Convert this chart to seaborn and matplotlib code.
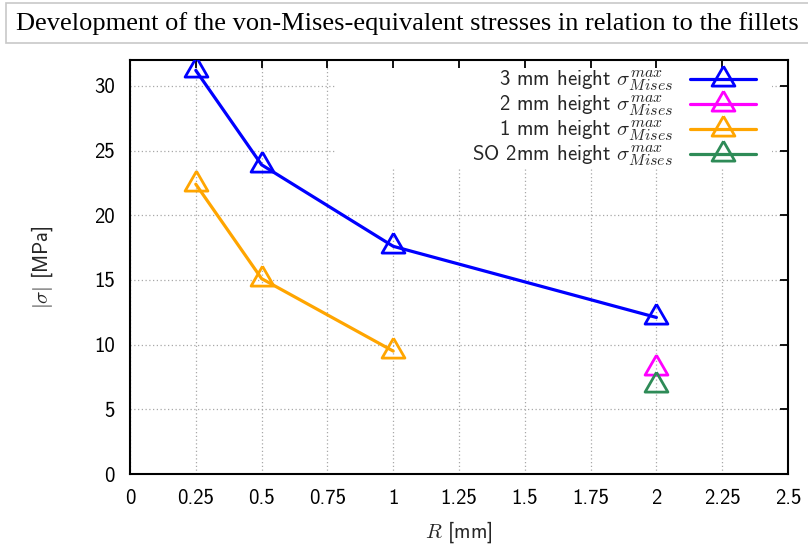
import numpy as np
import pandas as pd
import matplotlib
matplotlib.use("Agg")
import matplotlib.pyplot as plt
from matplotlib.markers import MarkerStyle
from matplotlib.patches import Rectangle
from matplotlib.ticker import FuncFormatter
import seaborn as sns

try:
    import matplotlib._mathtext as _mt
    _mt.SHRINK_FACTOR = 0.76  # slightly larger sub/superscripts, LaTeX-like
except Exception:
    pass

# Fillet radius R [mm] and peak von-Mises stress [MPa] per configuration
r_3mm = [0.25, 0.5, 1.0, 2.0]
s_3mm = [31.2, 23.9, 17.6, 12.1]
r_2mm = [2.0]
s_2mm = [8.2]
r_1mm = [0.25, 0.5, 1.0]
s_1mm = [22.4, 15.1, 9.5]
r_so2mm = [2.0]
s_so2mm = [6.9]

labels = [
    r"3 mm height $\sigma_{Mises}^{max}$",
    r"2 mm height $\sigma_{Mises}^{max}$",
    r"1 mm height $\sigma_{Mises}^{max}$",
    r"SO 2mm height $\sigma_{Mises}^{max}$",
]
colors = ["#0000ff", "#ff00ff", "#ffa500", "#2e8b57"]

x_ticks = [0, 0.25, 0.5, 0.75, 1, 1.25, 1.5, 1.75, 2, 2.25, 2.5]
y_ticks = [0, 5, 10, 15, 20, 25, 30]

title = "Development of the von-Mises-equivalent stresses in relation to the fillets"

sns.set_style("white")
plt.rcParams["font.family"] = ["cmss10", "DejaVu Sans"]
plt.rcParams["mathtext.fontset"] = "cm"
plt.rcParams["axes.formatter.use_mathtext"] = True
plt.rcParams["font.size"] = 15

fig = plt.figure(figsize=(8.08, 5.46), dpi=100)
pos = [130 / 808, (546 - 474) / 546, 658 / 808, 414 / 546]

# background axes carrying only the dotted grid
gax = fig.add_axes(pos, zorder=0)
gax.set_xlim(0, 2.5)
gax.set_ylim(0, 32)
gax.set_xticks(x_ticks)
gax.set_yticks(y_ticks)
gax.grid(True, color="#a8a8a8", linestyle=(0, (1, 2)), linewidth=0.9)
gax.tick_params(length=0, labelbottom=False, labelleft=False)
for sp in gax.spines.values():
    sp.set_visible(False)

ax = fig.add_axes(pos, zorder=1)
ax.patch.set_alpha(0)

# opaque key area hiding the grid behind the legend
ax.add_patch(Rectangle((0.312, 0.742), 0.663, 0.258, transform=ax.transAxes,
                       facecolor="white", edgecolor="none", zorder=0.1))

tri = MarkerStyle([(0, 2), (-1.732, -1), (1.732, -1), (0, 2)], joinstyle="miter")

series = [(r_3mm, s_3mm), (r_2mm, s_2mm), (r_1mm, s_1mm), (r_so2mm, s_so2mm)]
for (xs, ys), lab, col in zip(series, labels, colors):
    df = pd.DataFrame({"R": xs, "sigma": ys})
    sns.lineplot(data=df, x="R", y="sigma", ax=ax, color=col, label=lab,
                 marker=tri, markersize=19, markerfacecolor="none",
                 markeredgecolor=col, markeredgewidth=2.0, linewidth=2.3,
                 errorbar=None, zorder=3, legend=False)

ax.set_xlim(0, 2.5)
ax.set_ylim(0, 32)
ax.set_xticks(x_ticks)
ax.set_yticks(y_ticks)
ax.xaxis.set_major_formatter(FuncFormatter(lambda v, p: f"{v:g}"))
ax.yaxis.set_major_formatter(FuncFormatter(lambda v, p: f"{v:g}"))
ax.tick_params(direction="in", length=6, width=1.3, top=True, right=True,
               labelsize=15, colors="black")
ax.tick_params(axis="x", pad=11)
ax.tick_params(axis="y", pad=11)
for sp in ax.spines.values():
    sp.set_visible(True)
    sp.set_linewidth(1.5)
    sp.set_color("black")

ax.set_xlabel(r"$R$ [mm]", fontsize=15, labelpad=8)
ax.set_ylabel(r"$|\sigma|$ [MPa]", fontsize=15, labelpad=28)

handles, labs = ax.get_legend_handles_labels()
ax.legend(handles, labs, loc="upper right", bbox_to_anchor=(0.952, 0.978),
          frameon=False, markerfirst=False, handlelength=3.2,
          handletextpad=0.8, labelspacing=0.03, borderpad=0,
          borderaxespad=0, numpoints=1, fontsize=15)

# boxed title strip along the top
fig.patches.append(Rectangle((6 / 808, (546 - 43) / 546), 810 / 808, 40 / 546,
                             transform=fig.transFigure, facecolor="white",
                             edgecolor="#c8c8c8", linewidth=1.2))
fig.text(407 / 808, (546 - 24) / 546, title, ha="center", va="center",
         fontsize=19, family="Liberation Serif", color="black")

fig.savefig("out.png", dpi=100)
